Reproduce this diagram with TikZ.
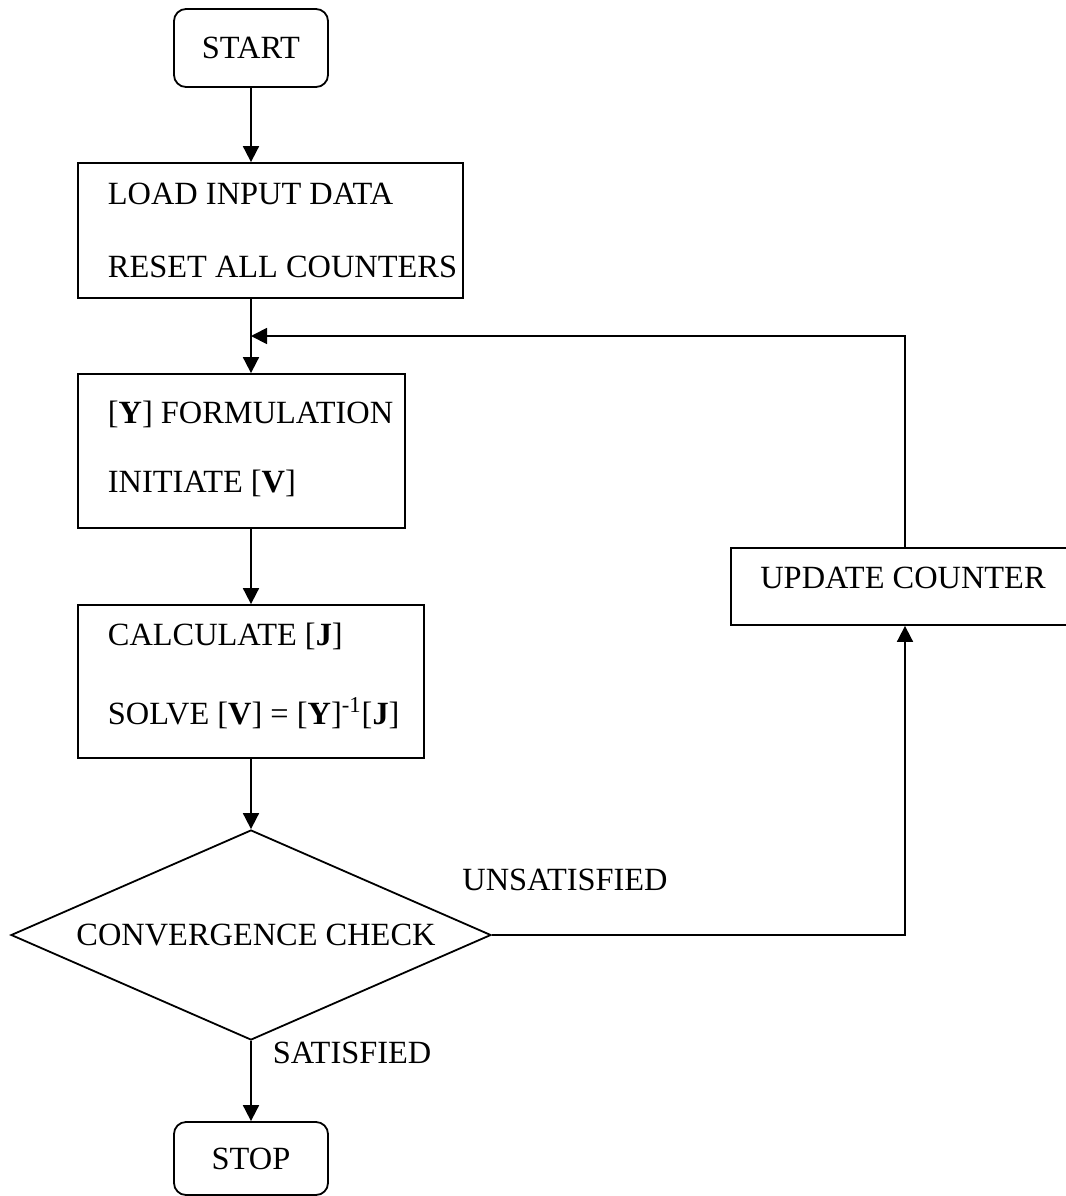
\documentclass[tikz,border=0pt]{standalone}
\usepackage{fontspec}
\setmainfont{Liberation Serif}
\usetikzlibrary{arrows.meta,shapes.geometric}
\begin{document}
\begin{tikzpicture}[x=0.5pt,y=-0.5pt,line width=0.9pt,
  every node/.style={font=\fontsize{16.2}{36.5}\selectfont},
  flow/.style={-{Triangle[width=8pt,length=8pt]}},
  box/.style={draw,rectangle,inner sep=0pt},
  term/.style={draw,rectangle,rounded corners=6pt,inner sep=0pt,minimum width=77pt,minimum height=39pt},
  txt/.style={align=left,anchor=west,inner sep=0pt}]
  \useasboundingbox (0,0) rectangle (1066,1196);
  \node[term] (start) at (251,48) {START};
  \node[box,minimum width=192.5pt,minimum height=67.5pt] (load) at (270.5,230.5) {};
  \node[txt] (loadtxt) at (107,230.5) {LOAD INPUT DATA\\RESET ALL COUNTERS};
  \node[box,minimum width=163.5pt,minimum height=77pt] (yform) at (241.5,451) {};
  \node[txt] (yformtxt) at (107,449) {[\textbf{Y}] FORMULATION\\[-2pt]INITIATE [\textbf{V}]};
  \node[box,minimum width=173pt,minimum height=76.5pt] (calc) at (251,681.5) {};
  \node[txt] (calctxt) at (107,676) {CALCULATE [\textbf{J}]\\[3pt]SOLVE [\textbf{V}] = [\textbf{Y}]\textsuperscript{-1}[\textbf{J}]};
  \node[draw,diamond,aspect=2.3,inner sep=0pt,minimum width=240pt,minimum height=105pt] (check) at (251,935) {\hspace*{5pt}CONVERGENCE CHECK};
  \node[box,minimum width=174pt,minimum height=38.5pt] (upd) at (905,586.5) {};
  \node (updtxt) at (903,578) {UPDATE COUNTER};
  \node[term,minimum height=36.5pt] (stop) at (251,1158.5) {STOP};
  \node[anchor=base,inner sep=0pt] (uns) at (565,890) {UNSATISFIED};
  \node[anchor=base west,inner sep=0pt] (sat) at (272,1063) {SATISFIED};
  \coordinate (fb) at (251,336);
  \draw[flow] (start) -- (start.south |- load.north);
  \draw[flow] (start.south |- load.south) -- (start.south |- yform.north);
  \draw[flow] (upd.north) |- (fb);
  \draw[flow] (start.south |- yform.south) -- (start.south |- calc.north);
  \draw[flow] (start.south |- calc.south) -- (check.north);
  \draw[flow] (check.east) -| (upd.south);
  \draw[flow] (check.south) -- (stop.north);
\end{tikzpicture}
\end{document}
